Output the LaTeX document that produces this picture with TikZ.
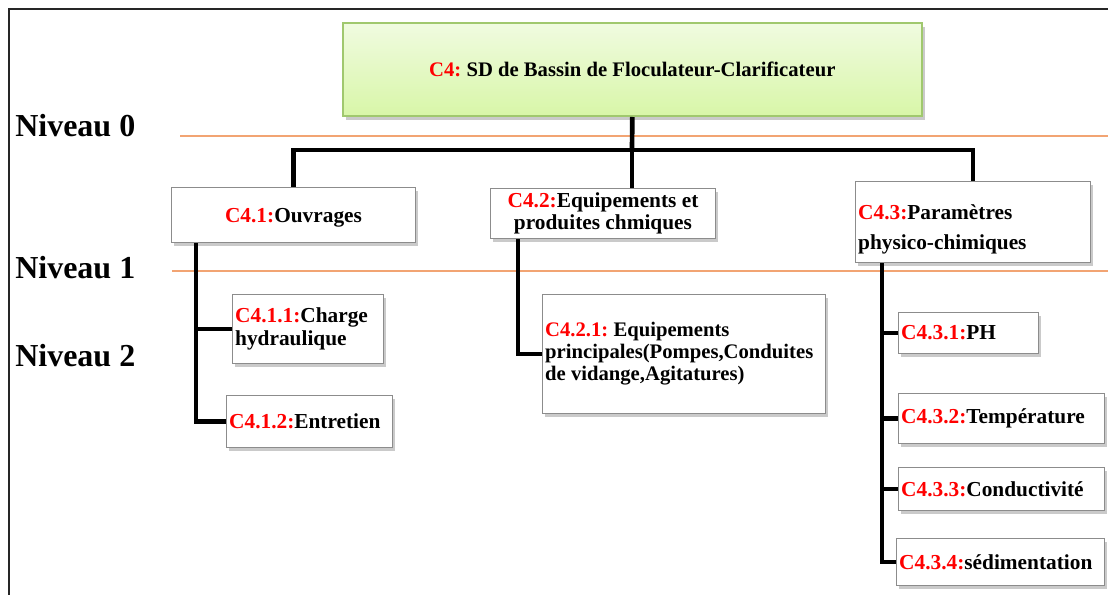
\documentclass[tikz,border=0pt]{standalone}
\usepackage{fontspec}
\setmainfont{Liberation Serif}
\usetikzlibrary{shadows}
\frenchspacing
\definecolor{labred}{RGB}{255,0,0}
\definecolor{lvlorange}{RGB}{242,164,115}
\definecolor{topfillA}{RGB}{240,251,224}
\definecolor{topfillB}{RGB}{216,246,168}
\definecolor{topdraw}{RGB}{160,200,110}
\newcommand\redlab[1]{\textcolor{labred}{#1}}
\tikzset{
  box/.style={draw=black!45, line width=0.8pt, fill=white,
    drop shadow={shadow xshift=2pt, shadow yshift=-2.5pt, opacity=0.35, fill=black!60},
    inner xsep=2pt, inner ysep=0pt, anchor=north west, align=flush left,
    font=\bfseries\fontsize{16}{17}\selectfont},
  topbox/.style={draw=topdraw, line width=1.5pt, top color=topfillA, bottom color=topfillB,
    drop shadow={shadow xshift=2.5pt, shadow yshift=-3pt, opacity=0.35, fill=black!60},
    inner xsep=2pt, inner ysep=0pt, anchor=north west, align=flush center,
    font=\bfseries\fontsize{15.5}{17}\selectfont},
  conn/.style={draw=black, line width=3.5pt},
  lvlline/.style={draw=lvlorange, line width=1.5pt},
  lvltext/.style={anchor=base west, inner sep=0pt, font=\bfseries\fontsize{24}{26}\selectfont},
  frame/.style={draw=black!85, line width=1.6pt}
}
\begin{document}
\begin{tikzpicture}[x=0.75pt,y=-0.75pt]
\useasboundingbox (0,0) rectangle (1108,595);
% frame
\draw[frame] (9,595) -- (9,9) -- (1108,9);
% level lines and labels
\draw[lvlline] (180,136) -- (1108,136);
\draw[lvlline] (172,271) -- (1108,271);
\node[lvltext] (n0) at (15,137) {Niveau 0};
\node[lvltext] (n1) at (15,279) {Niveau 1};
\node[lvltext] (n2) at (15,367) {Niveau 2};
% nodes
\node[topbox, text width=430pt, minimum height=69.75pt] (top) at (342,22)
  {\redlab{C4:} SD de Bassin de Floculateur-Clarificateur};
\node[box, text width=179pt, minimum height=41.25pt, align=flush center, text depth=-3pt] (c41) at (171,187)
  {\redlab{C4.1:}Ouvrages};
\node[box, text width=164.7pt, minimum height=37.5pt, align=flush center] (c42) at (490,188)
  {\redlab{C4.2:}Equipements et\\produites chmiques};
\node[box, text width=172pt, minimum height=60.75pt, font=\bfseries\fontsize{16}{23}\selectfont] (c43) at (855,181)
  {\rule{0pt}{22pt}\redlab{C4.3:}Paramètres\\physico-chimiques};
\node[box, text width=109pt, minimum height=51.75pt] (c411) at (232,294)
  {\redlab{C4.1.1:}Charge\\hydraulique};
\node[box, text width=120.5pt, minimum height=39pt] (c412) at (226,395)
  {\redlab{C4.1.2:}Entretien};
\node[box, text width=208pt, minimum height=89.25pt, font=\bfseries\fontsize{15.5}{16.5}\selectfont] (c421) at (542,294)
  {\redlab{C4.2.1:} Equipements\\principales(Pompes,Conduites\\de vidange,Agitatures)};
\node[box, text width=101pt, minimum height=30.75pt] (c431) at (898,312)
  {\redlab{C4.3.1:}PH};
\node[box, text width=150.5pt, minimum height=37.5pt] (c432) at (898,393)
  {\redlab{C4.3.2:}Température};
\node[box, text width=150.5pt, minimum height=32.25pt] (c433) at (898,467)
  {\redlab{C4.3.3:}Conductivité};
\node[box, text width=152pt, minimum height=35.25pt] (c434) at (896,538)
  {\redlab{C4.3.4:}sédimentation};
% junction coordinates
\coordinate (j0) at (632,150);
\coordinate (b41) at (196,0);
\coordinate (b42) at (518,0);
\coordinate (b43) at (882,0);
% connectors
\draw[conn] (top.south) -- (j0);
\draw[conn] (c41.north) |- (j0) -| (c43.north);
\draw[conn] (j0) -- (c42.north -| j0);
\draw[conn] (c41.south -| b41) |- (c411.west);
\draw[conn] (c41.south -| b41) |- (c412.west);
\draw[conn] (c42.south -| b42) |- (c421.west);
\draw[conn] (c43.south -| b43) |- (c431.west);
\draw[conn] (c43.south -| b43) |- (c432.west);
\draw[conn] (c43.south -| b43) |- (c433.west);
\draw[conn] (c43.south -| b43) |- (c434.west);
\end{tikzpicture}
\end{document}
